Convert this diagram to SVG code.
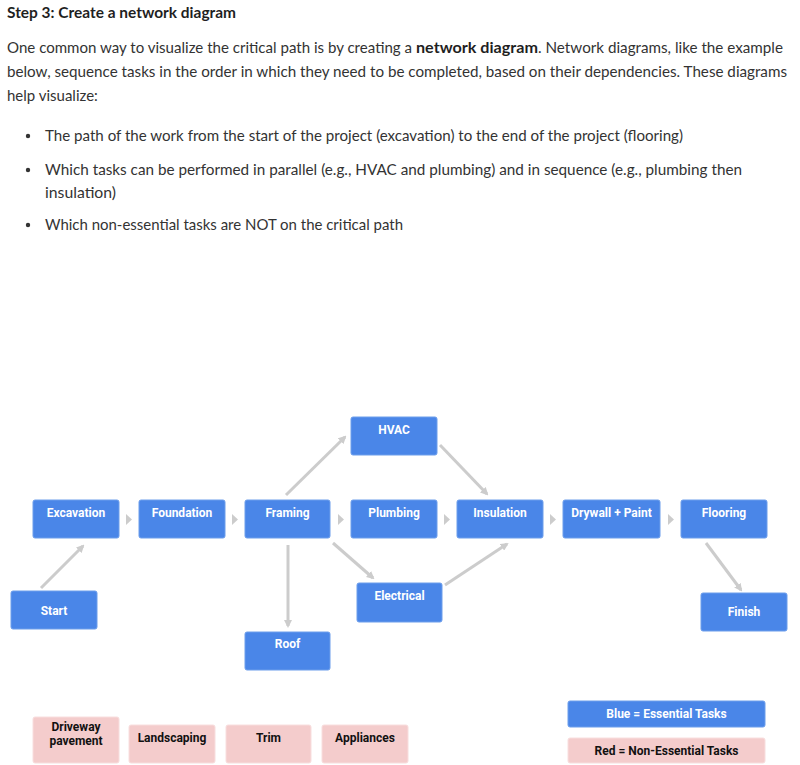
<svg xmlns="http://www.w3.org/2000/svg" width="800" height="765" viewBox="0 0 800 765">
<defs>
<marker id="ah" viewBox="0 0 8 8" refX="6" refY="4" markerWidth="8" markerHeight="8" markerUnits="userSpaceOnUse" orient="auto">
<path d="M0,0 L8,4 L0,8 z" fill="#cccccc"/>
</marker>
</defs>
<style>
.body{font-family:Lato,"Liberation Sans",sans-serif;font-size:15px;fill:#333333}
.title{font-family:Lato,"Liberation Sans",sans-serif;font-size:15px;font-weight:bold;fill:#1f1f1f}
.b{font-weight:bold;fill:#1f1f1f}
.ess rect{fill:#4a86e8;stroke:#6d9eeb;stroke-width:1}
.ess text{font-family:Roboto,"Liberation Sans",sans-serif;font-size:12px;font-weight:bold;fill:#ffffff;text-anchor:middle}
.non rect{fill:#f4cccc;stroke:#f8dede;stroke-width:1}
.non text{font-family:Roboto,"Liberation Sans",sans-serif;font-size:12px;font-weight:bold;fill:#111111;text-anchor:middle}
.ln{stroke:#cccccc;stroke-width:3;fill:none;marker-end:url(#ah)}
.tri{fill:#cccccc}
</style>
<rect width="800" height="765" fill="#ffffff"/>
<text class="title" x="7" y="18" textLength="229" lengthAdjust="spacingAndGlyphs">Step 3: Create a network diagram</text>
<text class="body" x="7" y="53" textLength="405" lengthAdjust="spacingAndGlyphs">One common way to visualize the critical path is by creating a</text>
<text class="body b" x="416" y="53" textLength="122" lengthAdjust="spacingAndGlyphs">network diagram</text>
<text class="body" x="538" y="53" textLength="245" lengthAdjust="spacingAndGlyphs">. Network diagrams, like the example</text>
<text class="body" x="7" y="77" textLength="780" lengthAdjust="spacingAndGlyphs">below, sequence tasks in the order in which they need to be completed, based on their dependencies. These diagrams</text>
<text class="body" x="7" y="101">help visualize:</text>
<g class="body">
<circle cx="28" cy="136" r="2.2" fill="#333333"/>
<text x="45" y="141" textLength="638" lengthAdjust="spacingAndGlyphs">The path of the work from the start of the project (excavation) to the end of the project (flooring)</text>
<circle cx="28" cy="170" r="2.2" fill="#333333"/>
<text x="45" y="175" textLength="697" lengthAdjust="spacingAndGlyphs">Which tasks can be performed in parallel (e.g., HVAC and plumbing) and in sequence (e.g., plumbing then</text>
<text x="45" y="198" textLength="71" lengthAdjust="spacingAndGlyphs">insulation)</text>
<circle cx="28" cy="225" r="2.2" fill="#333333"/>
<text x="45" y="230" textLength="358" lengthAdjust="spacingAndGlyphs">Which non-essential tasks are NOT on the critical path</text>
</g>
<g id="connectors">
<polygon class="tri" points="126,514 132,519.5 126,525"/>
<polygon class="tri" points="232,514 238,519.5 232,525"/>
<polygon class="tri" points="338,514 344,519.5 338,525"/>
<polygon class="tri" points="444,514 450,519.5 444,525"/>
<polygon class="tri" points="550,514 556,519.5 550,525"/>
<polygon class="tri" points="668,514 674,519.5 668,525"/>
<line class="ln" x1="41" y1="588" x2="83" y2="546"/>
<line class="ln" x1="286" y1="495" x2="345" y2="437"/>
<line class="ln" x1="440" y1="445" x2="487" y2="494"/>
<line class="ln" x1="288" y1="545" x2="288" y2="626"/>
<line class="ln" x1="333" y1="543" x2="373" y2="578"/>
<line class="ln" x1="445" y1="585" x2="507" y2="544"/>
<line class="ln" x1="706" y1="543" x2="741" y2="590"/>
</g>
<g id="excavation" class="ess"><rect x="33" y="500" width="86" height="38" rx="2"/><text x="76" y="517">Excavation</text></g>
<g id="foundation" class="ess"><rect x="139" y="500" width="86" height="38" rx="2"/><text x="182" y="517">Foundation</text></g>
<g id="framing" class="ess"><rect x="245" y="500" width="85" height="38" rx="2"/><text x="287.5" y="517">Framing</text></g>
<g id="plumbing" class="ess"><rect x="351" y="500" width="86" height="38" rx="2"/><text x="394" y="517">Plumbing</text></g>
<g id="hvac" class="ess"><rect x="351" y="417" width="86" height="38" rx="2"/><text x="394" y="434">HVAC</text></g>
<g id="insulation" class="ess"><rect x="457" y="500" width="86" height="38" rx="2"/><text x="500" y="517">Insulation</text></g>
<g id="drywall" class="ess"><rect x="563" y="500" width="97" height="38" rx="2"/><text x="611.5" y="517">Drywall + Paint</text></g>
<g id="flooring" class="ess"><rect x="681" y="500" width="86" height="38" rx="2"/><text x="724" y="517">Flooring</text></g>
<g id="start" class="ess"><rect x="11" y="591" width="86" height="38" rx="2"/><text x="54" y="615">Start</text></g>
<g id="roof" class="ess"><rect x="245" y="632" width="85" height="38" rx="2"/><text x="287.5" y="648">Roof</text></g>
<g id="electrical" class="ess"><rect x="357" y="583" width="85" height="39" rx="2"/><text x="399.5" y="600">Electrical</text></g>
<g id="finish" class="ess"><rect x="701" y="593" width="86" height="38" rx="2"/><text x="744" y="616">Finish</text></g>
<g id="driveway" class="non"><rect x="33" y="717" width="86" height="46" rx="2"/><text x="76" y="731">Driveway</text><text x="76" y="745">pavement</text></g>
<g id="landscaping" class="non"><rect x="129" y="725" width="86" height="38" rx="2"/><text x="172" y="742">Landscaping</text></g>
<g id="trim" class="non"><rect x="226" y="725" width="85" height="38" rx="2"/><text x="268.5" y="742">Trim</text></g>
<g id="appliances" class="non"><rect x="322" y="725" width="86" height="38" rx="2"/><text x="365" y="742">Appliances</text></g>
<g id="legend-blue" class="ess"><rect x="568" y="701" width="197" height="26" rx="2"/><text x="666.5" y="718">Blue = Essential Tasks</text></g>
<g id="legend-red" class="non"><rect x="568" y="738" width="197" height="25" rx="2"/><text x="666.5" y="755">Red = Non-Essential Tasks</text></g>
</svg>
